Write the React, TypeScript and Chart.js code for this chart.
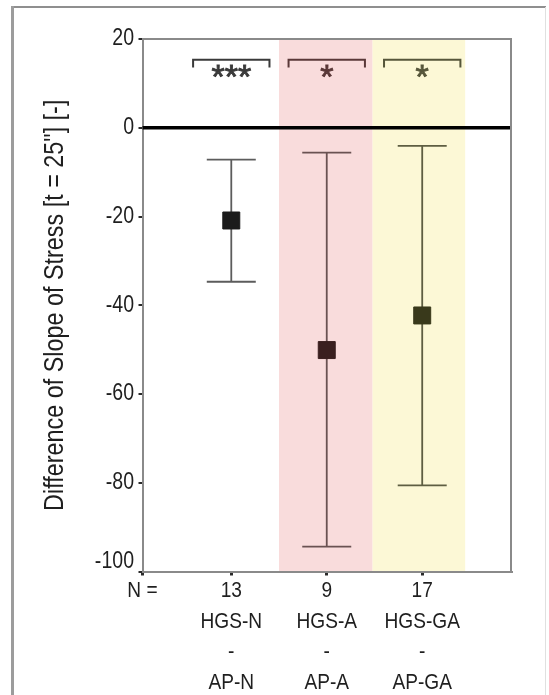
import React, { useEffect, useRef } from 'react';
import { Chart, registerables } from 'chart.js';

Chart.register(...registerables);

// ---- data ----
const categories = ['HGS-N', 'HGS-A', 'HGS-GA'];
const comparedTo = ['AP-N', 'AP-A', 'AP-GA'];
const sampleSizes = [13, 9, 17];
const means = [-20.9, -50.1, -42.3];
const upperBounds = [-7.2, -5.6, -4.1];
const lowerBounds = [-34.7, -94.4, -80.6];
const significance = ['***', '*', '*'];
const yTickValues = [20, 0, -20, -40, -60, -80, -100];
const yTitle = 'Difference of Slope of Stress [t = 25"] [-]';

// ---- styles ----
const FONT = '"Liberation Sans", Arial, sans-serif';
const CONDENSE = 0.85;
const markerColors = ['#1b1b1b', '#3a1f1f', '#39391b'];
const whiskerColors = ['#5c5c5c', '#6a5252', '#5e5e42'];
const bracketColors = ['#3a3a3a', '#5a3838', '#56563a'];
const bandPink = '#f9dcdc';
const bandYellow = '#fcf8d6';

const decorPlugin = {
  id: 'decor',
  beforeDraw(chart: any) {
    const { ctx, chartArea } = chart;
    const xs = chart.scales.x;
    // narrow text rendering (the reference uses a condensed face)
    const orig = Object.getPrototypeOf(ctx).fillText;
    ctx.fillText = function (text: string, x: number, y: number, maxWidth?: number) {
      this.save();
      this.translate(x, y);
      this.scale(CONDENSE, 1);
      if (maxWidth === undefined) orig.call(this, text, 0, 0);
      else orig.call(this, text, 0, 0, maxWidth / CONDENSE);
      this.restore();
    };
    ctx.save();
    ctx.strokeStyle = '#8f8f8f';
    ctx.lineWidth = 2;
    ctx.beginPath();
    ctx.moveTo(11, 7);
    ctx.lineTo(546, 7);
    ctx.stroke();
    ctx.strokeStyle = '#9c9c9c';
    ctx.lineWidth = 3;
    ctx.beginPath();
    ctx.moveTo(12.5, 6);
    ctx.lineTo(12.5, 695);
    ctx.stroke();
    ctx.strokeStyle = '#e0e0e0';
    ctx.lineWidth = 1;
    ctx.beginPath();
    ctx.moveTo(545.5, 7);
    ctx.lineTo(545.5, 695);
    ctx.stroke();
    const p1 = xs.getPixelForValue(1.5);
    const p2 = xs.getPixelForValue(2.48);
    const p3 = xs.getPixelForValue(3.45);
    ctx.fillStyle = bandPink;
    ctx.fillRect(p1, chartArea.top, p2 - p1, chartArea.bottom - chartArea.top);
    ctx.fillStyle = bandYellow;
    ctx.fillRect(p2, chartArea.top, p3 - p2, chartArea.bottom - chartArea.top);
    ctx.restore();
  },
  beforeDatasetsDraw(chart: any) {
    const { ctx, chartArea } = chart;
    const xs = chart.scales.x;
    const ys = chart.scales.y;
    const plainFill = Object.getPrototypeOf(ctx).fillText;
    ctx.save();
    const y0 = ys.getPixelForValue(0);
    ctx.strokeStyle = '#000';
    ctx.lineWidth = 3.5;
    ctx.beginPath();
    ctx.moveTo(chartArea.left, y0);
    ctx.lineTo(chartArea.right, y0);
    ctx.stroke();
    for (let i = 0; i < means.length; i++) {
      const x = xs.getPixelForValue(i + 1);
      const yu = ys.getPixelForValue(upperBounds[i]);
      const yl = ys.getPixelForValue(lowerBounds[i]);
      ctx.strokeStyle = whiskerColors[i];
      ctx.lineWidth = 1.8;
      ctx.beginPath();
      ctx.moveTo(x, yu);
      ctx.lineTo(x, yl);
      ctx.moveTo(x - 24.5, yu);
      ctx.lineTo(x + 24.5, yu);
      ctx.moveTo(x - 24.5, yl);
      ctx.lineTo(x + 24.5, yl);
      ctx.stroke();
    }
    for (let i = 0; i < significance.length; i++) {
      const xl = xs.getPixelForValue(i + 1 - 0.4);
      const xr = xs.getPixelForValue(i + 1 + 0.4);
      const yt = ys.getPixelForValue(15.3);
      const yb = ys.getPixelForValue(13.6);
      ctx.strokeStyle = bracketColors[i];
      ctx.lineWidth = 2;
      ctx.beginPath();
      ctx.moveTo(xl, yb);
      ctx.lineTo(xl, yt);
      ctx.lineTo(xr, yt);
      ctx.lineTo(xr, yb);
      ctx.stroke();
      const size = 34;
      const yc = ys.getPixelForValue(13.4);
      ctx.fillStyle = bracketColors[i];
      ctx.strokeStyle = bracketColors[i];
      ctx.lineWidth = 0.9;
      ctx.font = `${size}px ${FONT}`;
      ctx.textAlign = 'center';
      ctx.textBaseline = 'alphabetic';
      const tx = xs.getPixelForValue(i + 1);
      const ty = yc + 0.575 * size;
      plainFill.call(ctx, significance[i], tx, ty);
      ctx.strokeText(significance[i], tx, ty);
    }
    ctx.restore();
  },
  afterDatasetsDraw(chart: any) {
    const { ctx, chartArea } = chart;
    ctx.save();
    ctx.strokeStyle = '#8a8a8a';
    ctx.lineWidth = 2;
    ctx.beginPath();
    ctx.moveTo(chartArea.left, chartArea.top);
    ctx.lineTo(chartArea.right, chartArea.top);
    ctx.lineTo(chartArea.right, chartArea.bottom);
    ctx.stroke();
    ctx.restore();
  },
  afterDraw(chart: any) {
    delete chart.ctx.fillText;
  },
};

export default function App() {
  const canvasRef = useRef<HTMLCanvasElement | null>(null);

  useEffect(() => {
    document.body.style.margin = '0';
    const canvas = canvasRef.current;
    if (!canvas) return;
    const chart = new Chart(canvas, {
      type: 'scatter',
      data: {
        datasets: [
          {
            data: means.map((m, i) => ({ x: i + 1, y: m })),
            pointStyle: 'rect',
            pointRadius: 12,
            pointHoverRadius: 12,
            backgroundColor: markerColors,
            borderColor: markerColors,
            borderWidth: 1,
            showLine: false,
          },
        ],
      },
      options: {
        responsive: false,
        animation: false,
        layout: { padding: { left: 0, top: 39, right: 38, bottom: 0 } },
        plugins: {
          legend: { display: false },
          tooltip: { enabled: false },
        },
        scales: {
          x: {
            type: 'linear',
            min: 0.07,
            max: 3.93,
            afterBuildTicks: (s: any) => {
              s.ticks = [{ value: 0.07 }, ...categories.map((_, i) => ({ value: i + 1 }))];
            },
            afterFit: (s: any) => {
              s.height = 123.5;
            },
            grid: {
              display: true,
              drawOnChartArea: false,
              drawTicks: true,
              tickLength: 4,
              color: '#2a2a2a',
              lineWidth: 3,
            },
            border: { display: true, color: '#8a8a8a', width: 2 },
            ticks: {
              autoSkip: false,
              maxRotation: 0,
              minRotation: 0,
              padding: 0,
              color: '#1f1f1f',
              font: { family: FONT, size: 22.5, lineHeight: 1.365 },
              callback: (_v: any, idx: number) =>
                idx === 0
                  ? 'N ='
                  : [String(sampleSizes[idx - 1]), categories[idx - 1], '-', comparedTo[idx - 1]],
            },
          },
          y: {
            type: 'linear',
            min: -100,
            max: 20,
            afterBuildTicks: (s: any) => {
              s.ticks = yTickValues.map((v) => ({ value: v }));
            },
            afterFit: (s: any) => {
              s.width = 142.5;
            },
            grid: {
              display: true,
              drawOnChartArea: false,
              drawTicks: true,
              tickLength: 4,
              color: '#2a2a2a',
              lineWidth: 2,
            },
            border: { display: true, color: '#8a8a8a', width: 2 },
            ticks: {
              padding: 4.5,
              color: '#1f1f1f',
              font: { family: FONT, size: 23, lineHeight: 0.87 },
              callback: (v: any) => (v === -100 ? ['-100', ''] : String(v)),
            },
            title: {
              display: true,
              text: yTitle,
              color: '#1f1f1f',
              font: { family: FONT, size: 27.5 },
              padding: { top: 38.5, bottom: 0 },
            },
          },
        },
      },
      plugins: [decorPlugin],
    } as any);
    return () => chart.destroy();
  }, []);

  return (
    <div style={{ width: 549, height: 695 }}>
      <canvas ref={canvasRef} width={549} height={695} style={{ display: 'block' }} />
    </div>
  );
}
